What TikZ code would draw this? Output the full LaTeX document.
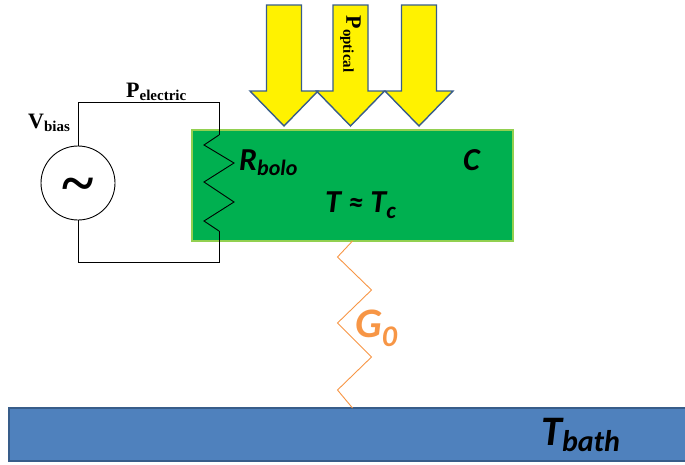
\documentclass[tikz,border=0pt]{standalone}
\usepackage{fontspec}
\usepackage{xcolor}
\usepackage{tikz}
\usetikzlibrary{positioning}
\setmainfont{Liberation Serif}
\newfontfamily\calibrifont{Carlito}

\definecolor{absorbergreen}{HTML}{00B050}
\definecolor{absorberedge}{HTML}{92D050}
\definecolor{bathblue}{HTML}{4F81BD}
\definecolor{bathedge}{HTML}{385D8A}
\definecolor{linkorange}{HTML}{F79646}

% subscript set lower and smaller, sizes in px
\newcommand{\lowsub}[3]{\raisebox{#1pt}{\fontsize{#2}{#2}\selectfont #3}}

\begin{document}
\begin{tikzpicture}[
    x=1pt, y=-1pt,
    absorber/.style={rectangle, draw=absorberedge, line width=1.5pt, fill=absorbergreen, minimum width=321pt, minimum height=111pt, outer sep=0pt},
    bath/.style={rectangle, draw=bathedge, line width=1.2pt, fill=bathblue, minimum width=678pt, minimum height=53pt, outer sep=0pt},
    beam/.style={draw=bathedge, line width=1.4pt, fill=yellow},
    source/.style={circle, draw=black, line width=0.9pt, fill=white, minimum size=74pt, inner sep=0pt, outer sep=0pt},
    wire/.style={line width=0.9pt, black},
    thermal/.style={line width=0.9pt, linkorange},
    blacklabel/.style={anchor=base west, inner sep=0pt, font=\fontsize{22}{22}\selectfont\bfseries},
    bololabel/.style={anchor=base west, inner sep=0pt, font=\fontsize{32}{32}\selectfont\calibrifont\bfseries\itshape},
    biglabel/.style={anchor=base west, inner sep=0pt, font=\fontsize{42}{42}\selectfont\calibrifont\bfseries\itshape},
]
\useasboundingbox (0,0) rectangle (685,464);

% === thermal bodies ===
\node[absorber] (bolo) at (352.5,185.5) {};
\node[bath] (tbath) at (348,434.5) {};

% === optical power ===
\foreach \bx in {284,350.5,419} {
    \draw[beam] (\bx,126) -- ++(34,-35) -- ++(-16.5,0) -- ++(0,-86) -- ++(-35,0) -- ++(0,86) -- ++(-16.5,0) -- cycle;
}
\node[rotate=-90, inner sep=0pt, font=\fontsize{22}{22}\selectfont\bfseries] (popt) at (350.5,44) {P\lowsub{-3}{15}{optical}};

% === bias circuit ===
\node[source] (vsource) at (78,183) {};
\node[inner sep=0pt, font=\fontsize{60}{60}\selectfont\bfseries] (tilde) at (78,191) {\~{}};
\coordinate (topleft) at (78,102);
\coordinate (topright) at (219,102);
\coordinate (botright) at (219,262);
\coordinate (botleft) at (78,262);
\coordinate (rtop) at (219,135);
\coordinate (rbot) at (219,231);

\draw[wire] (vsource.north) -- (topleft) -- (topright) -- (rtop);
\draw[wire] (rtop) -- ++(-15,10) -- ++(30,18) -- ++(-30,19) -- ++(30,20) -- ++(-30,19) -- (rbot);
\draw[wire] (rbot) -- (botright) -- (botleft) -- (vsource.south);

% === thermal link ===
\draw[thermal] (bolo.south) -- ++(-15,16) -- ++(34,33) -- ++(-34,33) -- ++(34,34) -- ++(-34,33) -- (bolo.south |- tbath.north);

% === labels ===
\node[blacklabel] (vbias) at (28,128) {V\lowsub{-3}{15}{bias}};
\node[blacklabel] (pelec) at (126,97) {P\lowsub{-3}{15}{electric}};
\node[bololabel] (rbolo) at (239,170) {R\lowsub{-5}{22}{bolo}};
\node[bololabel] (capc) at (463,170) {C};
\node[bololabel] (temp) at (325,212) {T \fontsize{30}{30}\selectfont≈\fontsize{32}{32}\selectfont{} T\lowsub{-6}{23}{c}};
\node[biglabel, text=linkorange] (gzero) at (355,337) {G\lowsub{-9}{30}{0}};
\node[biglabel] (tlabel) at (541,445) {T\lowsub{-6}{30}{bath}};
\end{tikzpicture}
\end{document}
